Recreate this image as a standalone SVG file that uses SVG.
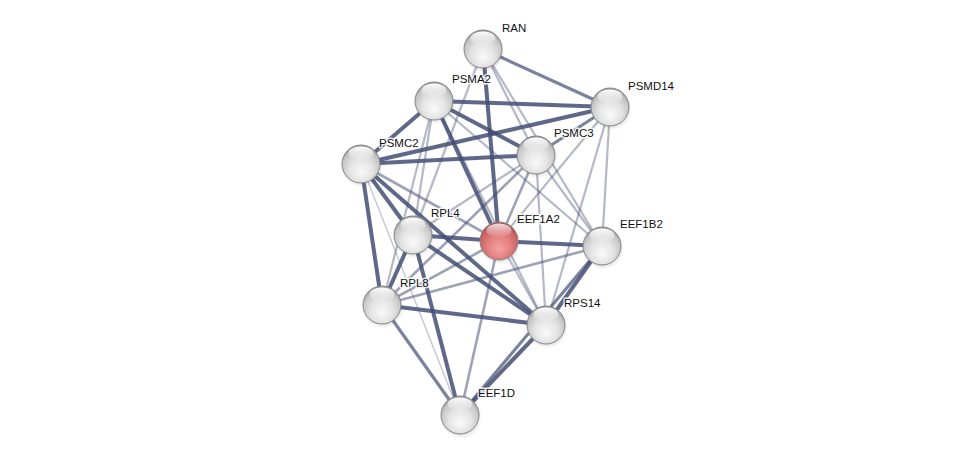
<svg xmlns="http://www.w3.org/2000/svg" width="975" height="460" viewBox="0 0 975 460">
<defs>
<style>
.edges line{stroke:#434d74;stroke-linecap:butt;fill:none}
.e1{stroke-width:4;stroke-opacity:.85}
.e2{stroke-width:3.2;stroke-opacity:.7}
.e3{stroke-width:2.6;stroke-opacity:.52}
.e4{stroke-width:2.2;stroke-opacity:.4}
.e5{stroke-width:1.5;stroke-opacity:.3}
.ball{stroke:#878787;stroke-width:1}
.lbl{font-family:"Liberation Sans",Arial,sans-serif;font-size:11.5px;fill:#111;paint-order:stroke;stroke:#ffffff;stroke-opacity:.85;stroke-width:3px;stroke-linejoin:round}
</style>
<radialGradient id="gW" cx="50%" cy="60%" r="60%" fx="50%" fy="72%">
<stop offset="0" stop-color="#fafafa"/>
<stop offset="0.5" stop-color="#e4e4e4"/>
<stop offset="0.82" stop-color="#c6c6c6"/>
<stop offset="1" stop-color="#929292"/>
</radialGradient>
<radialGradient id="gR" cx="50%" cy="60%" r="60%" fx="50%" fy="72%">
<stop offset="0" stop-color="#f4a2a2"/>
<stop offset="0.5" stop-color="#e4807f"/>
<stop offset="0.82" stop-color="#cc6265"/>
<stop offset="1" stop-color="#a04346"/>
</radialGradient>
<linearGradient id="gH" x1="0" y1="0" x2="0" y2="1">
<stop offset="0" stop-color="#ffffff" stop-opacity="1"/>
<stop offset="1" stop-color="#ffffff" stop-opacity="0"/>
</linearGradient>
<radialGradient id="gS" cx="50%" cy="50%" r="50%">
<stop offset="0.6" stop-color="#000" stop-opacity="0.2"/>
<stop offset="1" stop-color="#000" stop-opacity="0"/>
</radialGradient>
<g id="sphereW">
<circle r="21" cx="1" cy="2.5" fill="url(#gS)"/>
<circle r="19" class="ball" fill="url(#gW)"/>
<ellipse cx="0" cy="-10.5" rx="12.5" ry="7" fill="url(#gH)"/>
</g>
<g id="sphereR">
<circle r="21" cx="1" cy="2.5" fill="url(#gS)"/>
<circle r="19" class="ball" fill="url(#gR)" stroke="#8a4446"/>
<ellipse cx="0" cy="-10.5" rx="12.5" ry="7" fill="url(#gH)" opacity="0.8"/>
</g>
</defs>
<rect width="975" height="460" fill="#ffffff"/>
<g id="connectors" class="edges">
<line class="e2" x1="483" y1="49" x2="610" y2="107"/>
<line class="e1" x1="483" y1="49" x2="499" y2="241"/>
<line class="e4" x1="483" y1="49" x2="536" y2="155"/>
<line class="e4" x1="483" y1="49" x2="602" y2="246"/>
<line class="e4" x1="483" y1="49" x2="413" y2="235"/>
<line class="e1" x1="434" y1="101" x2="610" y2="107"/>
<line class="e1" x1="434" y1="101" x2="536" y2="155"/>
<line class="e1" x1="434" y1="101" x2="361" y2="164"/>
<line class="e1" x1="434" y1="101" x2="499" y2="241"/>
<line class="e4" x1="434" y1="101" x2="413" y2="235"/>
<line class="e4" x1="434" y1="101" x2="382" y2="305"/>
<line class="e4" x1="434" y1="101" x2="546" y2="325"/>
<line class="e4" x1="434" y1="101" x2="602" y2="246"/>
<line class="e1" x1="361" y1="164" x2="610" y2="107"/>
<line class="e1" x1="361" y1="164" x2="536" y2="155"/>
<line class="e1" x1="361" y1="164" x2="413" y2="235"/>
<line class="e1" x1="361" y1="164" x2="382" y2="305"/>
<line class="e1" x1="361" y1="164" x2="546" y2="325"/>
<line class="e3" x1="361" y1="164" x2="499" y2="241"/>
<line class="e5" x1="361" y1="164" x2="460" y2="415"/>
<line class="e2" x1="610" y1="107" x2="536" y2="155"/>
<line class="e4" x1="610" y1="107" x2="602" y2="246"/>
<line class="e4" x1="610" y1="107" x2="546" y2="325"/>
<line class="e4" x1="610" y1="107" x2="499" y2="241"/>
<line class="e3" x1="536" y1="155" x2="499" y2="241"/>
<line class="e4" x1="536" y1="155" x2="546" y2="325"/>
<line class="e4" x1="536" y1="155" x2="602" y2="246"/>
<line class="e3" x1="536" y1="155" x2="382" y2="305"/>
<line class="e4" x1="536" y1="155" x2="413" y2="235"/>
<line class="e1" x1="413" y1="235" x2="499" y2="241"/>
<line class="e1" x1="413" y1="235" x2="382" y2="305"/>
<line class="e1" x1="413" y1="235" x2="546" y2="325"/>
<line class="e1" x1="413" y1="235" x2="460" y2="415"/>
<line class="e3" x1="382" y1="305" x2="602" y2="246"/>
<line class="e3" x1="382" y1="305" x2="499" y2="241"/>
<line class="e1" x1="382" y1="305" x2="546" y2="325"/>
<line class="e2" x1="382" y1="305" x2="460" y2="415"/>
<line class="e1" x1="499" y1="241" x2="602" y2="246"/>
<line class="e4" x1="499" y1="241" x2="546" y2="325"/>
<line class="e3" x1="499" y1="241" x2="460" y2="415"/>
<line class="e1" x1="602" y1="246" x2="546" y2="325"/>
<line class="e2" x1="602" y1="246" x2="460" y2="415"/>
<line class="e1" x1="546" y1="325" x2="460" y2="415"/>
</g>
<g id="RAN"><use href="#sphereW" x="483" y="49"/><text class="lbl" x="502" y="32">RAN</text></g>
<g id="PSMA2"><use href="#sphereW" x="434" y="101"/><text class="lbl" x="452" y="83">PSMA2</text></g>
<g id="PSMD14"><use href="#sphereW" x="610" y="107"/><text class="lbl" x="628" y="90">PSMD14</text></g>
<g id="PSMC3"><use href="#sphereW" x="536" y="155"/><text class="lbl" x="554" y="137">PSMC3</text></g>
<g id="PSMC2"><use href="#sphereW" x="361" y="164"/><text class="lbl" x="379" y="147">PSMC2</text></g>
<g id="RPL4"><use href="#sphereW" x="413" y="235"/><text class="lbl" x="431" y="217">RPL4</text></g>
<g id="EEF1A2"><use href="#sphereR" x="499" y="241"/><text class="lbl" x="517" y="223">EEF1A2</text></g>
<g id="EEF1B2"><use href="#sphereW" x="602" y="246"/><text class="lbl" x="620" y="228">EEF1B2</text></g>
<g id="RPL8"><use href="#sphereW" x="382" y="305"/><text class="lbl" x="400" y="287">RPL8</text></g>
<g id="RPS14"><use href="#sphereW" x="546" y="325"/><text class="lbl" x="564" y="307">RPS14</text></g>
<g id="EEF1D"><use href="#sphereW" x="460" y="415"/><text class="lbl" x="478" y="397">EEF1D</text></g>
</svg>
